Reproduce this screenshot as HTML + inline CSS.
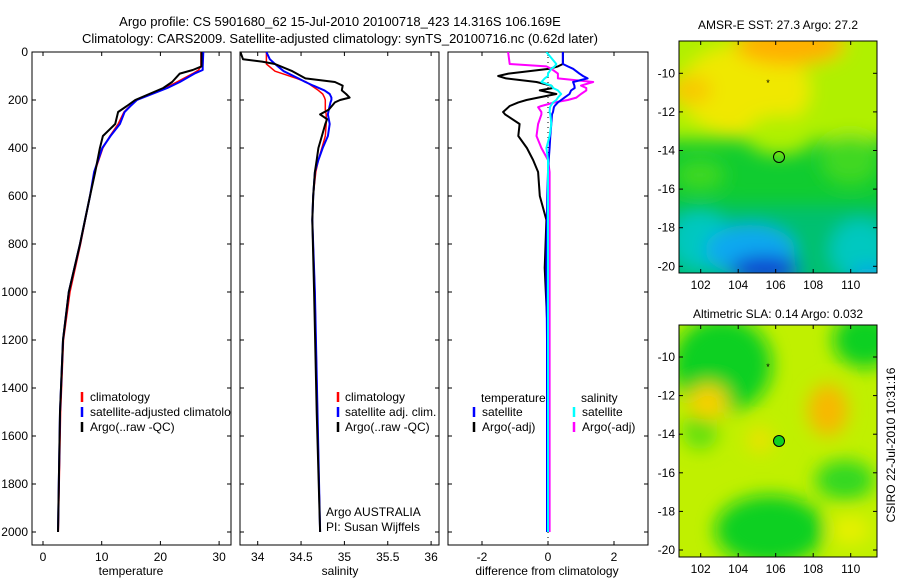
<!DOCTYPE html>
<html><head><meta charset="utf-8"><style>
body{margin:0;background:#fff;}
svg{display:block;font-family:"Liberation Sans",sans-serif;}
</style></head><body>
<svg id="fig" width="900" height="580" viewBox="0 0 900 580" xmlns="http://www.w3.org/2000/svg">
<defs>
<clipPath id="c1"><rect x="32" y="52" width="199" height="493"/></clipPath>
<clipPath id="c2"><rect x="240" y="52" width="199" height="493"/></clipPath>
<clipPath id="c3"><rect x="448" y="52" width="200" height="493"/></clipPath>
<clipPath id="m1"><rect x="679" y="41" width="198" height="232"/></clipPath>
<clipPath id="m2"><rect x="679" y="325" width="198" height="232"/></clipPath>
<filter id="bl" x="-50%" y="-50%" width="200%" height="200%"><feGaussianBlur stdDeviation="9"/></filter>
</defs>
<text x="340" y="26" font-size="13" text-anchor="middle">Argo profile: CS 5901680_62 15-Jul-2010 20100718_423 14.316S 106.169E</text>
<text x="340" y="43" font-size="13" text-anchor="middle">Climatology: CARS2009. Satellite-adjusted climatology: synTS_20100716.nc (0.62d later)</text>

<g clip-path="url(#m1)">
<rect x="679" y="41" width="198" height="232" fill="#10cc30"/>
<g filter="url(#bl)">
<rect x="660" y="20" width="240" height="120" fill="#b0f000"/>
<ellipse cx="745" cy="90" rx="65" ry="45" fill="#f0e800"/>
<ellipse cx="790" cy="45" rx="55" ry="20" fill="#ffb000"/>
<ellipse cx="690" cy="90" rx="22" ry="14" fill="#f8c800"/>
<ellipse cx="780" cy="135" rx="35" ry="20" fill="#b0f000"/>
<ellipse cx="850" cy="160" rx="30" ry="25" fill="#40d820"/>
<ellipse cx="700" cy="175" rx="25" ry="15" fill="#40d820"/>
<rect x="660" y="205" width="240" height="90" fill="#00c070"/>
<ellipse cx="700" cy="240" rx="30" ry="30" fill="#00c8c0"/>
<ellipse cx="860" cy="250" rx="30" ry="30" fill="#00c8c0"/>
<ellipse cx="750" cy="250" rx="45" ry="25" fill="#10a8f0"/>
<ellipse cx="765" cy="270" rx="35" ry="14" fill="#1040d0"/>
<ellipse cx="870" cy="275" rx="20" ry="8" fill="#10a0f0"/>
</g>
<circle cx="779" cy="157" r="5.5" fill="none" stroke="#000" stroke-width="1"/>
<text x="768" y="86" font-size="9" text-anchor="middle">*</text>
</g>
<g clip-path="url(#m2)">
<rect x="679" y="325" width="198" height="232" fill="#c0f000"/>
<g filter="url(#bl)">
<ellipse cx="722" cy="365" rx="50" ry="48" fill="#10d020"/>
<ellipse cx="865" cy="340" rx="32" ry="28" fill="#10d020"/>
<ellipse cx="770" cy="530" rx="55" ry="35" fill="#10d020"/>
<ellipse cx="845" cy="480" rx="30" ry="20" fill="#30d820"/>
<ellipse cx="700" cy="430" rx="18" ry="20" fill="#60e010"/>
<ellipse cx="708" cy="402" rx="20" ry="18" fill="#f8d000"/>
<ellipse cx="828" cy="410" rx="20" ry="26" fill="#f8b800"/>
<ellipse cx="760" cy="440" rx="12" ry="12" fill="#f0e000"/>
<ellipse cx="850" cy="530" rx="20" ry="14" fill="#e8f000"/>
</g>
<circle cx="779" cy="441" r="5.5" fill="#10d020" stroke="#000" stroke-width="1"/>
<text x="768" y="370" font-size="9" text-anchor="middle">*</text>
</g>
<text x="778" y="29" font-size="12" text-anchor="middle">AMSR-E SST: 27.3 Argo: 27.2</text>
<text x="778" y="318" font-size="12" text-anchor="middle">Altimetric SLA: 0.14 Argo: 0.032</text>
<text transform="translate(895,445) rotate(-90)" font-size="12" text-anchor="middle">CSIRO 22-Jul-2010 10:31:16</text>
<g id="plots"></g>
</svg>
<script>
const depthT = [0,60,75,90,125,150,200,225,250,300,350,400,500,600,800,1000,1200,1500,2000];
const tempClim = [26.9,26.9,26.5,25.5,22.8,20.8,16.0,14.8,13.8,12.8,11.4,10.2,8.8,8.0,6.4,4.6,3.5,3.0,2.6];
const tempSat =  [27.3,27.2,27.2,25.8,23.3,21.2,16.0,14.9,13.9,13.1,11.5,10.1,8.7,8.0,6.3,4.4,3.4,2.9,2.55];
const tempArgo = [27.0,27.0,25.5,23.3,22.0,20.5,15.7,14.3,12.8,12.3,10.2,9.7,8.9,8.0,6.3,4.4,3.4,2.9,2.55];
const depthS = [0,30,40,50,80,110,125,140,160,175,190,200,210,240,260,280,300,350,400,450,500,600,700,1000,1500,2000];
const salClim = [34.10,34.10,34.10,34.10,34.20,34.45,34.56,34.62,34.70,34.75,34.77,34.78,34.78,34.78,34.79,34.79,34.79,34.78,34.74,34.70,34.67,34.64,34.63,34.66,34.69,34.72];
const salSat =  [34.10,34.14,34.17,34.20,34.30,34.47,34.55,34.64,34.77,34.83,34.85,34.85,34.84,34.82,34.81,34.82,34.83,34.81,34.75,34.70,34.66,34.64,34.63,34.66,34.69,34.72];
const salArgo = [33.80,33.83,34.05,34.20,34.40,34.55,34.89,34.98,34.97,35.02,35.06,34.95,34.89,34.82,34.72,34.80,34.78,34.74,34.70,34.68,34.66,34.64,34.63,34.65,34.68,34.72];
const depthD = [0,50,60,70,90,100,110,125,140,150,160,175,190,200,210,225,230,250,260,300,350,400,450,500,600,700,900,1200,2000];
const dTempSat =  [0.45,0.45,0.6,0.76,0.95,1.06,1.2,0.76,0.8,0.81,0.7,0.65,0.5,0.4,0.3,0.2,0.18,0.15,0.12,0.1,0.07,0.05,0.02,0,-0.02,-0.03,-0.05,-0.03,-0.03];
const dTempArgo = [0.45,0.45,0.3,0.05,-1.2,-1.51,-1.27,-0.35,0.1,0.15,-0.25,0.25,-0.3,-0.65,-0.9,-1.16,-1.2,-1.36,-1.3,-0.86,-0.9,-0.64,-0.45,-0.3,-0.25,-0.05,-0.1,0,0];
const dSalSat =   [-0.05,0.25,0.2,0.1,0,0,-0.1,-0.2,0.1,0.15,0.3,0.4,0.3,0.25,0.15,0.08,0.06,0.05,0.07,0.1,0.05,-0.05,0,0,0,0,0,0,0];
const dSalArgo =  [-1.21,-1.16,-0.05,0.1,0.3,0.3,0.3,1.37,1.0,1.16,1.16,1.0,0.86,0.6,0.2,-0.2,-0.3,-0.2,-0.2,-0.3,-0.35,-0.2,0,0.05,0.05,0.05,0.05,0.05,0.05];
const depthTicks = [0,200,400,600,800,1000,1200,1400,1600,1800,2000];
const tempTicks = [0,10,20,30];
const salTicks = [34,34.5,35,35.5,36];
const salTickLabels = ["34","34.5","35","35.5","36"];
const diffTicks = [-2,0,2];
const latTicks = [-10,-12,-14,-16,-18,-20];
const lonTicks = [102,104,106,108,110];

const NS="http://www.w3.org/2000/svg";
const root=document.getElementById('plots');
function mk(tag,attrs,parent){const e=document.createElementNS(NS,tag);for(const k in attrs)e.setAttribute(k,attrs[k]);(parent||root).appendChild(e);return e;}
const yD = d => 52 + d*0.24;
const xT = v => 43 + v*5.87;
const xS = v => 257.7 + (v-34)*86.7;
const xDf = v => 548 + v*33;
const yLat = v => 73.3 + (-10 - v)*19.3;
const yLat2 = v => 357 + (-10 - v)*19.3;
const xLon = v => 700.7 + (v-102)*18.75;

function frame(x0,y0,x1,y1,name){
  const r=mk('rect',{x:x0,y:y0,width:x1-x0,height:y1-y0,fill:'none',stroke:'#000','stroke-width':1});
  
  
}
function xticks(x0,x1,y0,y1,ticks,fx,labels,name){
  ticks.forEach((t,i)=>{
    const x=fx(t);
    mk('line',{x1:x,x2:x,y1:y1,y2:y1-4,stroke:'#000'});
    mk('line',{x1:x,x2:x,y1:y0,y2:y0+4,stroke:'#000'});
    const tx=mk('text',{x:x,y:y1+16,'font-size':12,'text-anchor':'middle'});
    tx.textContent=labels?labels[i]:String(t);
    
    
  });
}
function yticks(x0,x1,ticks,fy,labels,name){
  ticks.forEach(t=>{
    const y=fy(t);
    mk('line',{x1:x0,x2:x0+4,y1:y,y2:y,stroke:'#000'});
    mk('line',{x1:x1,x2:x1-4,y1:y,y2:y,stroke:'#000'});
    if(labels){
      const tx=mk('text',{x:x0-4,y:y+4,'font-size':12,'text-anchor':'end'});
      tx.textContent=labels(t);
      
      
    }
  });
}
function line(depths,vals,fx,color,w,clip,name){
  let d='';
  depths.forEach((dp,i)=>{d+=(i?'L':'M')+fx(vals[i]).toFixed(1)+','+yD(dp).toFixed(1);});
  const p=mk('path',{d:d,fill:'none',stroke:color,'stroke-width':w,'clip-path':'url(#'+clip+')','stroke-linejoin':'round'});
  
  
}
function label(x,y,txt,name,anchor){
  const t=mk('text',{x:x,y:y,'font-size':12,'text-anchor':anchor||'start'});
  t.textContent=txt;
  
  
  return t;
}
function legMark(x,y,color){mk('line',{x1:x,x2:x,y1:y-10,y2:y,stroke:color,'stroke-width':2.5});}

// panel 1
frame(32,52,231,545,'temperature-panel');
yticks(32,231,depthTicks,yD,t=>String(t),'depth');
xticks(32,231,52,545,tempTicks,xT,null,'temperature');
line(depthT,tempClim,xT,'#f00',1.5,'c1','temperature-climatology-line');
line(depthT,tempSat,xT,'#00f',2,'c1','temperature-satellite-line');
line(depthT,tempArgo,xT,'#000',2,'c1','temperature-argo-line');
label(131,575,'temperature','temperature-axis-title','middle');
const g1=mk('g',{'clip-path':'url(#c1)'});
legMark(82,402,'#f00');legMark(82,417,'#00f');legMark(82,432,'#000');
[['climatology',401],['satellite-adjusted climatology',416],['Argo(..raw -QC)',431]].forEach(a=>{
  const t=mk('text',{x:90,y:a[1],'font-size':12},g1);t.textContent=a[0];
  
  
});

// panel 2
frame(240,52,439,545,'salinity-panel');
yticks(240,439,depthTicks,yD,null,'depth2');
xticks(240,439,52,545,salTicks,xS,salTickLabels,'salinity');
line(depthS,salClim,xS,'#f00',1.5,'c2','salinity-climatology-line');
line(depthS,salSat,xS,'#00f',2,'c2','salinity-satellite-line');
line(depthS,salArgo,xS,'#000',2,'c2','salinity-argo-line');
label(340,575,'salinity','salinity-axis-title','middle');
legMark(338,402,'#f00');legMark(338,417,'#00f');legMark(338,432,'#000');
label(345,401,'climatology','salinity-legend-climatology');
label(345,416,'satellite adj. clim.','salinity-legend-satellite');
label(345,431,'Argo(..raw -QC)','salinity-legend-argo');
label(326,516,'Argo AUSTRALIA','argo-australia-label');
label(326,531,'PI: Susan Wijffels','pi-label');

// panel 3
frame(448,52,648,545,'difference-panel');
yticks(448,648,depthTicks,yD,null,'depth3');
xticks(448,648,52,545,diffTicks,xDf,null,'difference');
mk('line',{x1:xDf(0),x2:xDf(0),y1:52,y2:545,stroke:'#000','stroke-dasharray':'1,4'});
line(depthD,dTempArgo,xDf,'#000',2,'c3','diff-temperature-argo-line');
line(depthD,dSalArgo,xDf,'#f0f',2,'c3','diff-salinity-argo-line');
line(depthD,dTempSat,xDf,'#00f',2,'c3','diff-temperature-satellite-line');
line(depthD,dSalSat,xDf,'#0ff',2,'c3','diff-salinity-satellite-line');
label(547,575,'difference from climatology','difference-axis-title','middle');
label(481,402,'temperature','legend-temperature-header');
label(581,402,'salinity','legend-salinity-header');
legMark(474,417,'#00f');legMark(474,432,'#000');legMark(574,417,'#0ff');legMark(574,432,'#f0f');
label(482,416,'satellite','legend-temp-satellite');
label(482,431,'Argo(-adj)','legend-temp-argo');
label(582,416,'satellite','legend-sal-satellite');
label(582,431,'Argo(-adj)','legend-sal-argo');

// maps
function mapAxes(top,bottom,fy,name){
  frame(679,top,877,bottom,name+'-frame');
  latTicks.forEach(t=>{
    const y=fy(t);
    mk('line',{x1:679,x2:683,y1:y,y2:y,stroke:'#000'});
    mk('line',{x1:877,x2:873,y1:y,y2:y,stroke:'#000'});
    const tx=mk('text',{x:675,y:y+4,'font-size':12,'text-anchor':'end'});
    tx.textContent=String(t);
    
    
  });
  lonTicks.forEach(t=>{
    const x=xLon(t);
    mk('line',{x1:x,x2:x,y1:top,y2:top+4,stroke:'#000'});
    mk('line',{x1:x,x2:x,y1:bottom,y2:bottom-4,stroke:'#000'});
    const tx=mk('text',{x:x,y:bottom+16,'font-size':12,'text-anchor':'middle'});
    tx.textContent=String(t);
    
    
  });
}
mapAxes(41,273,yLat,'sst-map');
mapAxes(325,557,yLat2,'sla-map');
</script>
</body></html>
